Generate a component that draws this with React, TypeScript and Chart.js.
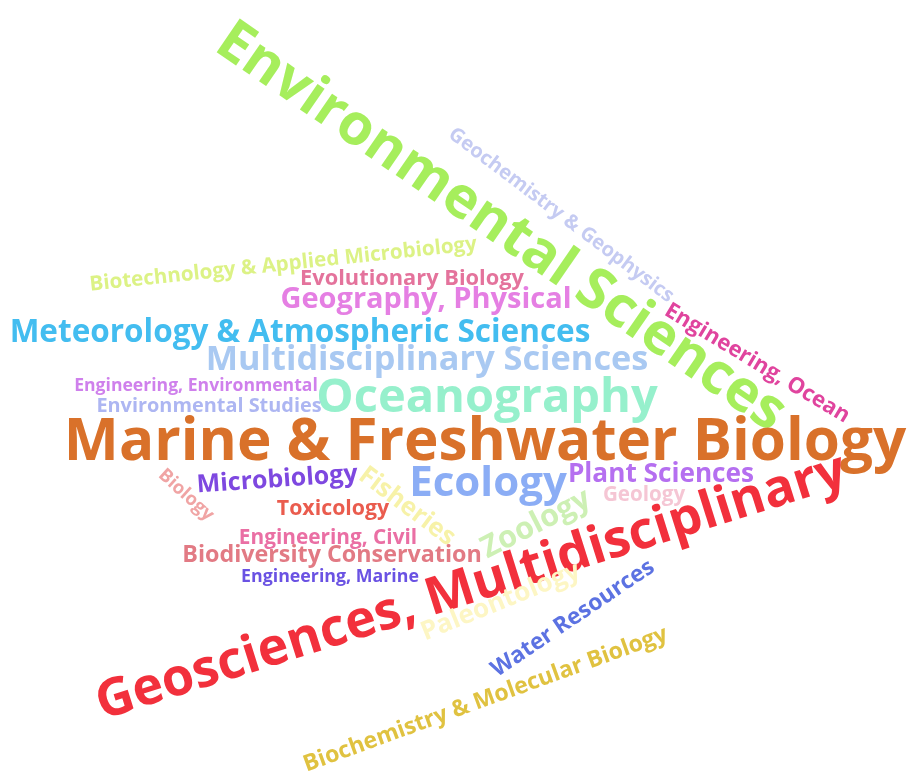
import React, { useEffect, useRef } from "react";
import { Chart, registerables } from "chart.js";

Chart.register(...registerables);

// Word cloud data: term, weight (font px), layout position (0..909 x 0..772), rotation (deg), colour
const words: string[] = [
  "Environmental Sciences",
  "Marine & Freshwater Biology",
  "Geosciences, Multidisciplinary",
  "Oceanography",
  "Ecology",
  "Multidisciplinary Sciences",
  "Meteorology & Atmospheric Sciences",
  "Zoology",
  "Geography, Physical",
  "Fisheries",
  "Paleontology",
  "Biodiversity Conservation",
  "Plant Sciences",
  "Microbiology",
  "Biochemistry & Molecular Biology",
  "Water Resources",
  "Engineering, Civil",
  "Biotechnology & Applied Microbiology",
  "Engineering, Ocean",
  "Evolutionary Biology",
  "Geochemistry & Geophysics",
  "Toxicology",
  "Environmental Studies",
  "Engineering, Environmental",
  "Engineering, Marine",
  "Geology",
  "Biology",
];

const weights: number[] = [57, 58.4, 52, 47, 42, 34.3, 31.5, 30.5, 29, 25.5, 26, 23.3, 26.2, 25, 23, 22.8, 20.8, 20.6, 22, 21.8, 20, 21.3, 19.9, 17.6, 17.8, 20.6, 18.5];

const posX: number[] = [503, 485, 470, 487, 488, 427, 300, 535, 426, 408, 500, 332, 661, 277, 485, 572, 328, 283, 758, 412, 562, 333, 209, 196, 330, 644, 187];
const posY: number[] = [224, 439, 584, 395, 481, 358, 331, 522, 298, 505, 600, 554, 473, 478, 698, 617, 537, 263, 362, 277, 214, 507, 405, 385, 576, 494, 494];

const rotations: number[] = [34.5, 0, -17.5, 0, 0, 0, 0, -27, 0, 37, -22, 0, 0, -4, -20, -34, 0, -6, 31, 0, 37, 0, 0, 0, 0, 0, 42];

const colors: string[] = [
  "#a6ee5c",
  "#d9712a",
  "#f2303c",
  "#96f0cc",
  "#8badf5",
  "#a9c9f2",
  "#43bdf0",
  "#cdf0b4",
  "#e57fe3",
  "#f7f2a8",
  "#fdf6c4",
  "#e27a84",
  "#b56ff0",
  "#7e48e0",
  "#e0c240",
  "#5c72e2",
  "#ea6fa4",
  "#dcf285",
  "#e0449e",
  "#e4739c",
  "#c5cbf2",
  "#ea5c4e",
  "#adb6f2",
  "#cf80ec",
  "#6a52e3",
  "#f5c6d4",
  "#f0a4a4",
];

const FONT_FAMILY = '"Open Sans", "Noto Sans", sans-serif';

const wordCloudPlugin = {
  id: "wordCloudText",
  afterDatasetsDraw(chart: any) {
    const ctx = chart.ctx as CanvasRenderingContext2D;
    const meta = chart.getDatasetMeta(0);
    meta.data.forEach((el: any, i: number) => {
      const size = weights[i];
      ctx.save();
      ctx.translate(el.x, el.y);
      ctx.rotate((rotations[i] * Math.PI) / 180);
      ctx.font = `bold ${size}px ${FONT_FAMILY}`;
      ctx.fillStyle = colors[i];
      ctx.textAlign = "center";
      ctx.textBaseline = "alphabetic";
      ctx.fillText(words[i], 0, size * 0.36);
      ctx.restore();
    });
  },
};

export default function App() {
  const canvasRef = useRef<HTMLCanvasElement | null>(null);

  useEffect(() => {
    if (!canvasRef.current) return;
    const points = words.map((_, i) => ({ x: posX[i], y: posY[i] }));
    const chart = new Chart(canvasRef.current, {
      type: "scatter",
      data: {
        labels: words,
        datasets: [
          {
            data: points,
            pointRadius: 0,
            pointHoverRadius: 0,
            backgroundColor: colors,
          },
        ],
      },
      options: {
        responsive: false,
        animation: false,
        events: [],
        layout: { padding: 0 },
        plugins: {
          legend: { display: false },
          tooltip: { enabled: false },
        },
        scales: {
          x: { type: "linear", min: 0, max: 909, display: false },
          y: { type: "linear", min: 0, max: 772, reverse: true, display: false },
        },
      },
      plugins: [wordCloudPlugin],
    } as any);
    return () => chart.destroy();
  }, []);

  return (
    <div
      style={{
        position: "absolute",
        left: 0,
        top: 0,
        width: 909,
        height: 772,
        background: "#ffffff",
      }}
    >
      <canvas ref={canvasRef} width={909} height={772} style={{ display: "block" }} />
    </div>
  );
}
